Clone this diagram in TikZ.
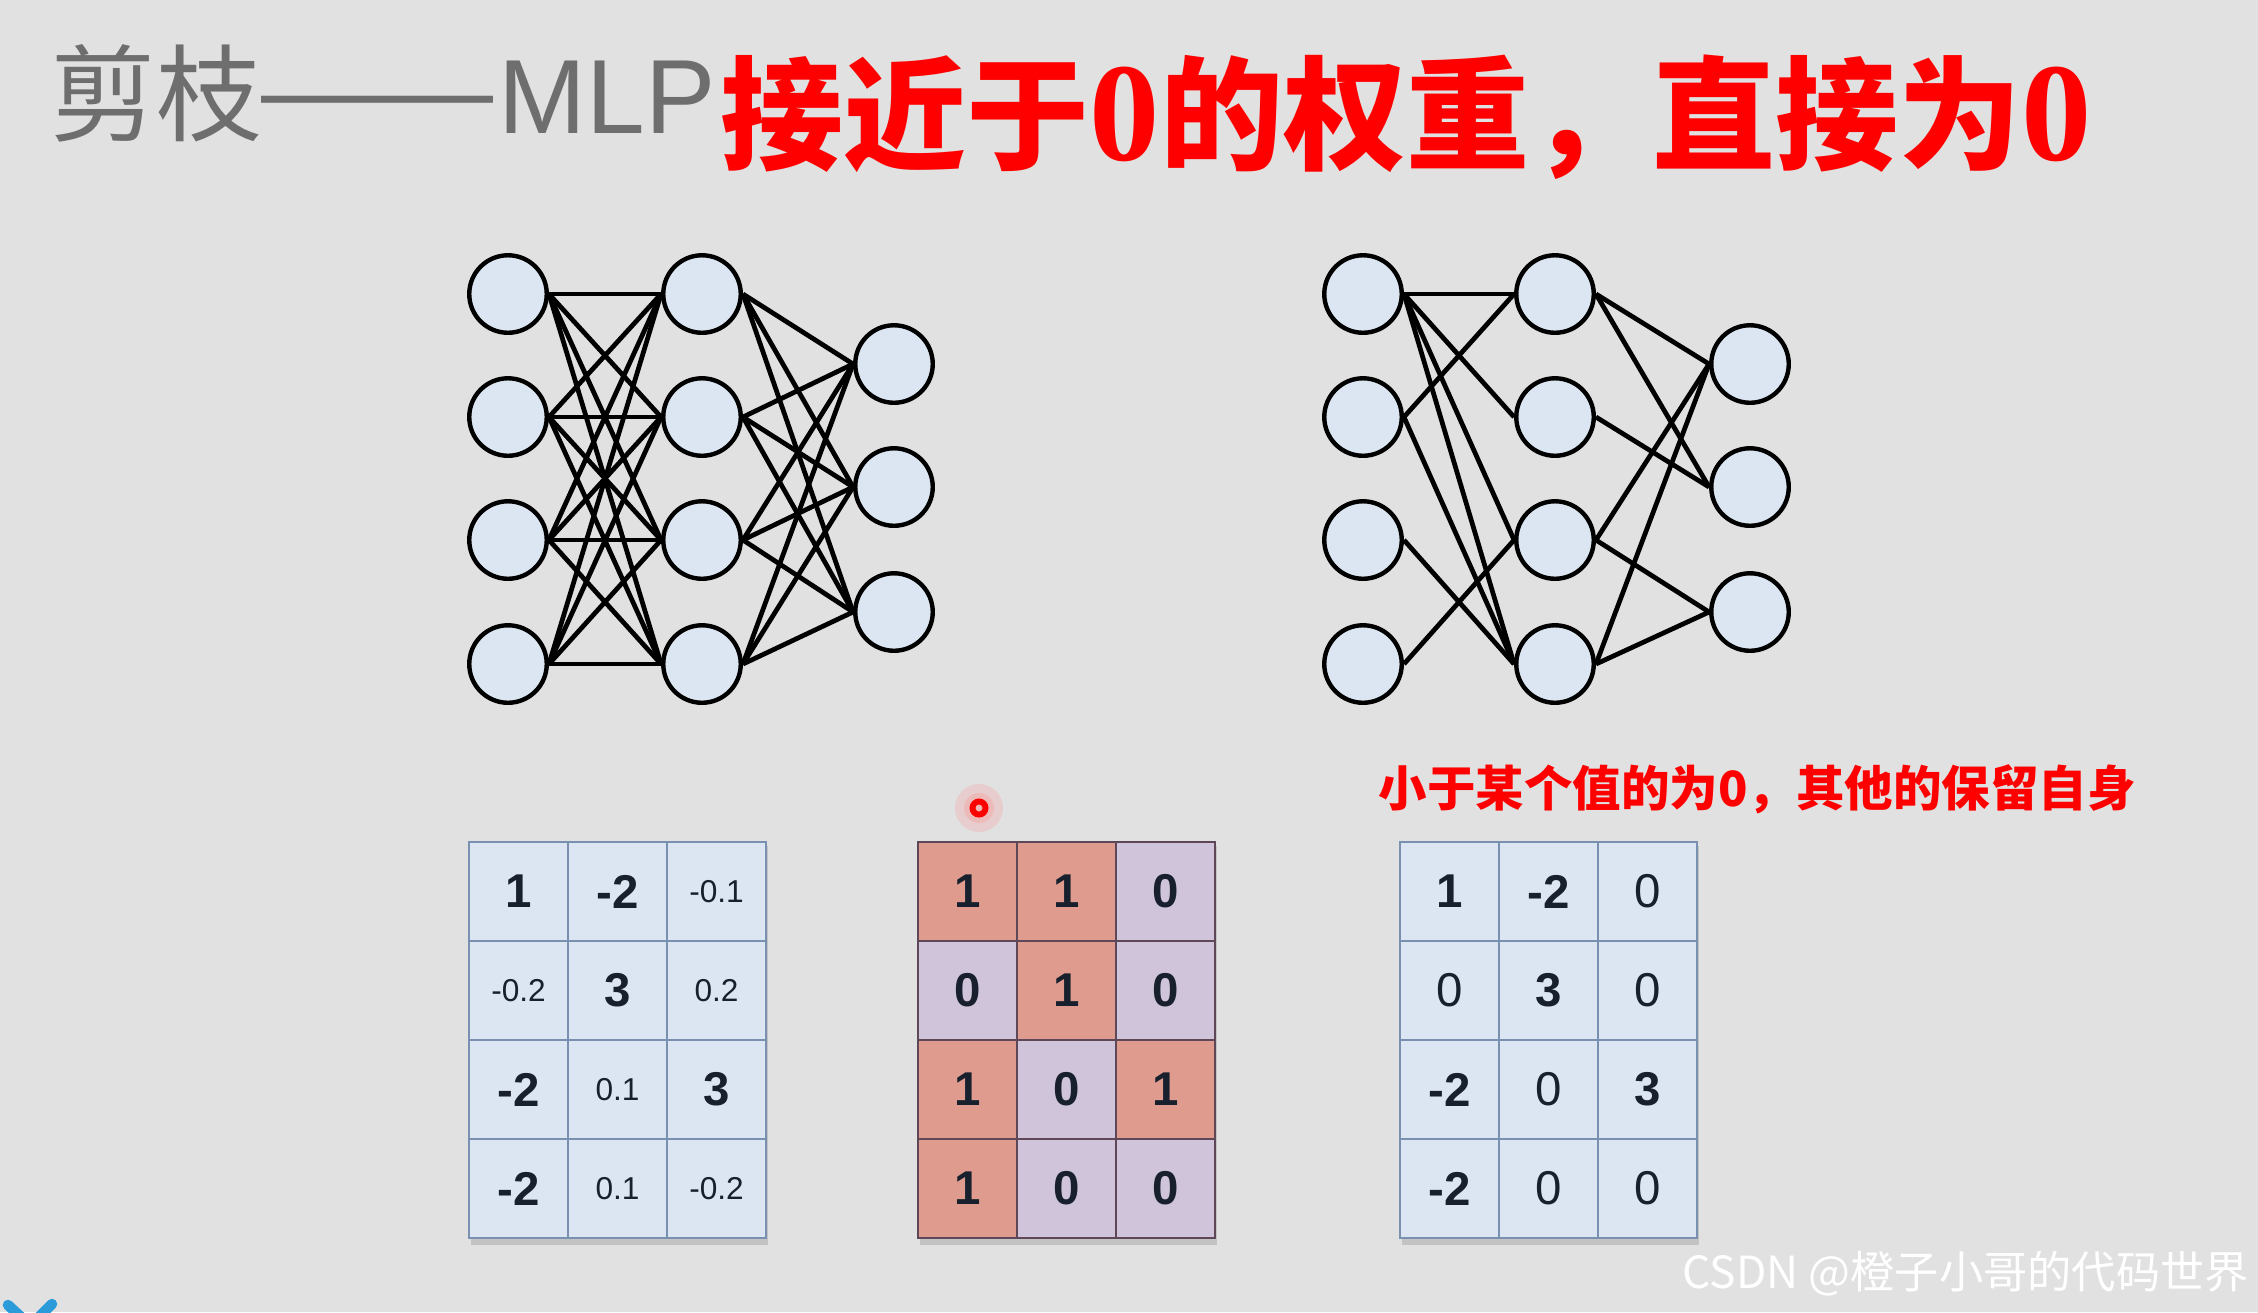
\documentclass[tikz,border=0pt]{standalone}
\usepackage{fontspec}
\setmainfont{Liberation Sans}
\newfontfamily\cjk{Noto Sans CJK SC}
\newfontfamily\serifzero{Liberation Serif}
\usetikzlibrary{positioning}
\definecolor{slide}{HTML}{E1E1E1}
\definecolor{unit}{HTML}{DCE6F2}
\definecolor{titlegray}{HTML}{6E6E6E}
\definecolor{alert}{HTML}{FF0000}
\definecolor{glow}{HTML}{F4A8A8}
\definecolor{gridline}{HTML}{7A90B0}
\definecolor{ink}{HTML}{18202E}
\definecolor{keepred}{HTML}{DF9C8E}
\definecolor{droplilac}{HTML}{CFC4DA}
\definecolor{maskline}{HTML}{5E4858}
\definecolor{logoblue}{HTML}{2B9BD9}
\newcommand\tallzero{{\serifzero\bfseries\fontsize{40}{40}\selectfont 0}}

\begin{document}
\begin{tikzpicture}[
  x=1cm,y=1cm,
  neuron/.style={circle,draw=black,fill=unit,line width=1.25pt,minimum size=0.775cm,inner sep=0pt},
  link/.style={draw=black,line width=1.35pt},
  cell/.style={draw=gridline,fill=unit,line width=0.7pt,minimum width=0.99cm,minimum height=0.99cm,
    inner sep=0pt,text=ink},
  keepcell/.style={cell,draw=maskline,fill=keepred,font=\bfseries\fontsize{13.5}{14}\selectfont},
  dropcell/.style={cell,draw=maskline,fill=droplilac,font=\bfseries\fontsize{13.5}{14}\selectfont},
  big/.style={font=\bfseries\fontsize{13.5}{14}\selectfont},
  frac/.style={font=\fontsize{9}{10}\selectfont},
  plainnum/.style={font=\fontsize{13.5}{14}\selectfont},
  matshadow/.style={fill=black,opacity=0.13},
  heading/.style={anchor=base west,inner sep=0pt}
]
\fill[slide] (0,0) rectangle (22.58,-13.12);
\useasboundingbox (0,0) rectangle (22.58,-13.12);

\node[heading,text=titlegray,font=\fontsize{30}{36}\selectfont] (title) at (0.50,-1.33)
  {{\cjk 剪枝}\raisebox{0.06em}{\scalebox{1.1}[1]{——}}\kern0.05em MLP};
\node[heading,text=alert,font=\cjk\bfseries\fontsize{35}{40}\selectfont] (headline) at (7.20,-1.60)
  {接近于\tallzero 的权重，直接为\tallzero};

\foreach \k/\y in {1/-2.94,2/-4.17,3/-5.40,4/-6.64}{
  \node[neuron] (a-in-\k) at (5.08,\y) {};
  \node[neuron] (a-hid-\k) at (7.02,\y) {};
  \node[neuron] (b-in-\k) at (13.63,\y) {};
  \node[neuron] (b-hid-\k) at (15.55,\y) {};
}
\foreach \k/\y in {1/-3.64,2/-4.87,3/-6.12}{
  \node[neuron] (a-out-\k) at (8.94,\y) {};
  \node[neuron] (b-out-\k) at (17.50,\y) {};
}
\foreach \i in {1,...,4}{
  \foreach \j in {1,...,4} \draw[link] (a-in-\i.east) -- (a-hid-\j.west);
  \foreach \j in {1,2,3} \draw[link] (a-hid-\i.east) -- (a-out-\j.west);
}
\foreach \i/\j in {1/1,1/2,1/3,1/4,2/1,2/4,3/4,4/3}
  \draw[link] (b-in-\i.east) -- (b-hid-\j.west);
\foreach \i/\j in {1/1,1/2,2/2,3/1,3/3,4/1,4/3}
  \draw[link] (b-hid-\i.east) -- (b-out-\j.west);

\node[heading,text=alert,font=\cjk\bfseries\fontsize{13.8}{16}\selectfont] (rule) at (13.78,-8.06)
  {小于某个值的为0，其他的保留自身};
\fill[glow,opacity=0.35] (9.79,-8.08) circle (0.24);
\fill[glow,opacity=0.5] (9.79,-8.08) circle (0.15);
\node[circle,draw=alert,line width=1.7pt,minimum size=0.13cm,inner sep=0pt] (pointer) at (9.79,-8.08) {};

\foreach \mx in {4.69,9.18,14.00}
  \fill[matshadow] (\mx+0.02,-8.46) rectangle (\mx+2.99,-12.45);

\foreach \r/\row in {1/{big/1,big/-2,frac/-0.1},2/{frac/-0.2,big/3,frac/0.2},
    3/{big/-2,frac/0.1,big/3},4/{big/-2,frac/0.1,frac/-0.2}}
  \foreach \s/\v [count=\c] in \row
    \node[cell,\s] (w-\r-\c) at ({4.69+0.99*\c-0.495},{-8.42-0.99*\r+0.495}) {\v};

\foreach \r/\row in {1/{keepcell/1,keepcell/1,dropcell/0},2/{dropcell/0,keepcell/1,dropcell/0},
    3/{keepcell/1,dropcell/0,keepcell/1},4/{keepcell/1,dropcell/0,dropcell/0}}
  \foreach \s/\v [count=\c] in \row
    \node[\s] (m-\r-\c) at ({9.18+0.99*\c-0.495},{-8.42-0.99*\r+0.495}) {\v};

\foreach \r/\row in {1/{big/1,big/-2,plainnum/0},2/{plainnum/0,big/3,plainnum/0},
    3/{big/-2,plainnum/0,big/3},4/{big/-2,plainnum/0,plainnum/0}}
  \foreach \s/\v [count=\c] in \row
    \node[cell,\s] (p-\r-\c) at ({14.00+0.99*\c-0.495},{-8.42-0.99*\r+0.495}) {\v};

\node[heading,text=white,font=\cjk\fontsize{12.6}{15}\selectfont] (mark) at (16.82,-12.88)
  {CSDN @橙子小哥的代码世界};
\draw[logoblue,line width=3pt,line cap=round] (0.08,-13.05) -- (0.22,-13.18);
\draw[logoblue,line width=3pt,line cap=round] (0.52,-13.04) -- (0.38,-13.18);
\end{tikzpicture}
\end{document}
